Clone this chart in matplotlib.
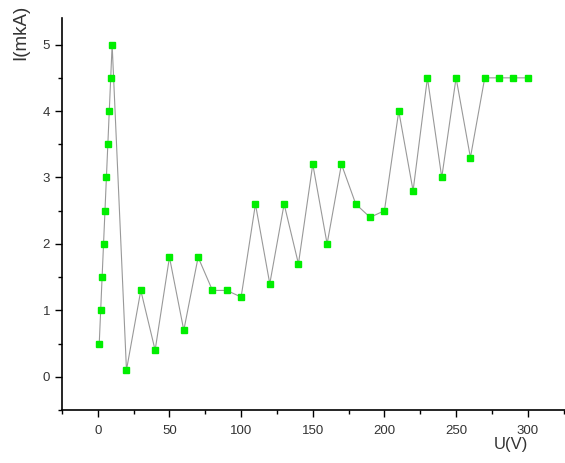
import numpy as np
import matplotlib.pyplot as plt
from matplotlib.ticker import MultipleLocator

plt.rcParams['font.family'] = ['Liberation Sans', 'DejaVu Sans']

# Measured current vs. voltage
voltage = [1, 2, 3, 4, 5, 6, 7, 8, 9, 10, 20, 30, 40, 50, 60, 70, 80, 90, 100,
           110, 120, 130, 140, 150, 160, 170, 180, 190, 200, 210, 220, 230,
           240, 250, 260, 270, 280, 290, 300]
current = [0.5, 1.0, 1.5, 2.0, 2.5, 3.0, 3.5, 4.0, 4.5, 5.0, 0.1, 1.3, 0.4, 1.8,
           0.7, 1.8, 1.3, 1.3, 1.2, 2.6, 1.4, 2.6, 1.7, 3.2, 2.0, 3.2, 2.6, 2.4,
           2.5, 4.0, 2.8, 4.5, 3.0, 4.5, 3.3, 4.5, 4.5, 4.5, 4.5]

fig = plt.figure(figsize=(5.65, 4.63), dpi=100)
ax = fig.add_axes([0.1097, 0.1145, 0.8903, 0.8465])

ax.plot(voltage, current, color='#999999', lw=0.8, zorder=1)
ax.plot(voltage, current, ls='none', marker='s', ms=5, color='#00ee00',
        markeredgecolor='#00ee00', zorder=2)

ax.set_xlim(-25, 326)
ax.set_ylim(-0.5, 5.4)
ax.xaxis.set_major_locator(MultipleLocator(50))
ax.xaxis.set_minor_locator(MultipleLocator(25))
ax.yaxis.set_major_locator(MultipleLocator(1))
ax.yaxis.set_minor_locator(MultipleLocator(0.5))
ax.tick_params(which='major', direction='out', length=5, width=1, labelsize=9.5,
               labelcolor='#333333')
ax.tick_params(which='minor', direction='out', length=3, width=1)
ax.tick_params(axis='x', pad=6)

for s in ['top', 'right']:
    ax.spines[s].set_visible(False)
for s in ['left', 'bottom']:
    ax.spines[s].set_linewidth(1.2)

fig.text(0.037, 0.99, 'I(mkA)', rotation=90, ha='center', va='top',
         fontsize=13.5, color='#333333')
fig.text(0.905, 0.04, 'U(V)', ha='center', va='center', fontsize=12,
         color='#333333')

fig.savefig('out.png', dpi=100)
